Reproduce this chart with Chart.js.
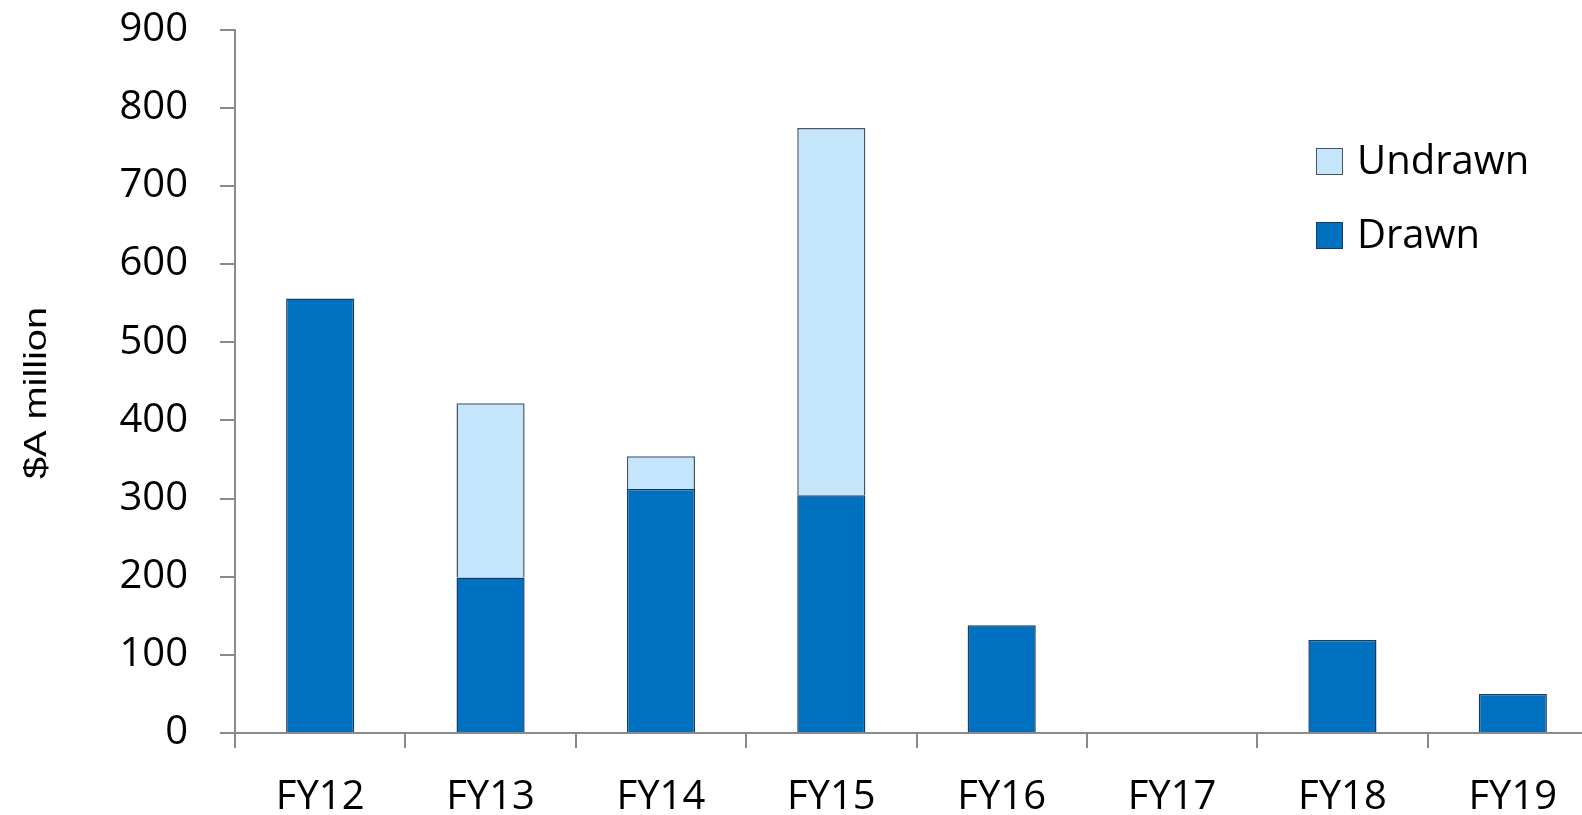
<!DOCTYPE html>
<html>
<head>
<meta charset="utf-8">
<script src="https://cdn.jsdelivr.net/npm/chart.js@4.4.0/dist/chart.umd.min.js"></script>
<style>
html, body { margin: 0; padding: 0; background: #fff; overflow: hidden; }
#wrap { width: 1610px; height: 815px; }
</style>
</head>
<body>
<div id="wrap"><canvas id="maturityChart" width="1610" height="815"></canvas></div>
<script>
const years = ['FY12', 'FY13', 'FY14', 'FY15', 'FY16', 'FY17', 'FY18', 'FY19']
const drawn = [556, 199, 312, 304, 138, null, 119, 50]
const undrawn = [null, 223, 42, 470, null, null, null, null]
const yMin = 0
const yMax = 900
const yStep = 100
const yTitle = '$A million'

const axisGrey = '#8a8a8a'

// legend + rotated axis title drawn by hand so they sit where the original has them
const extrasPlugin = {
    id: 'extras',
    afterDraw(chart) {
        const ctx = chart.ctx
        ctx.save()
        // legend, Undrawn on top
        const items = [chart.data.datasets[1], chart.data.datasets[0]]
        ctx.font = '40px "Open Sans"'
        ctx.textBaseline = 'middle'
        ctx.textAlign = 'left'
        items.forEach(function (ds, i) {
            const cy = 161 + i * 74
            ctx.fillStyle = ds.backgroundColor
            ctx.fillRect(1316, cy - 13, 27, 27)
            ctx.strokeStyle = ds.borderColor
            ctx.lineWidth = 1
            ctx.strokeRect(1316.5, cy - 12.5, 26, 26)
            ctx.fillStyle = '#000'
            ctx.fillText(ds.label, 1357, cy + 2)
        })
        // y title
        ctx.translate(37, 393)
        ctx.rotate(-Math.PI / 2)
        ctx.scale(1.28, 1)
        ctx.font = '31px "Liberation Sans"'
        ctx.textAlign = 'center'
        ctx.fillText(yTitle, 0, 0)
        ctx.restore()
    }
}

let ctx = document.getElementById('maturityChart')
let chart = new Chart(ctx, {
    type: 'bar',
    data: {
        labels: years,
        datasets: [
            {
                label: 'Drawn',
                data: drawn,
                backgroundColor: '#0070c0',
                borderColor: '#1d3a5c',
                borderWidth: 1.5,
                borderSkipped: 'bottom',
                barPercentage: 1,
                categoryPercentage: 0.4,
            },
            {
                label: 'Undrawn',
                data: undrawn,
                backgroundColor: '#c5e5fb',
                borderColor: '#46566a',
                borderWidth: 1.5,
                borderSkipped: 'bottom',
                barPercentage: 1,
                categoryPercentage: 0.4,
            }],
    },
    options: {
        responsive: false,
        animation: false,
        devicePixelRatio: 1,
        layout: { padding: { top: 29.5, right: 12, left: 0, bottom: 0 } },
        plugins: {
            legend: { display: false },
            tooltip: { enabled: false },
        },
        scales: {
            x: {
                stacked: true,
                border: { display: true, color: axisGrey, width: 2 },
                grid: {
                    display: true,
                    offset: true,
                    drawOnChartArea: false,
                    drawTicks: true,
                    tickLength: 15,
                    color: axisGrey,
                    lineWidth: 2,
                },
                ticks: {
                    color: '#000',
                    font: { family: '"Open Sans"', size: 40 },
                    padding: 26,
                    maxRotation: 0,
                },
                afterFit: function (scale) { scale.height = 82 },
            },
            y: {
                stacked: true,
                min: yMin,
                max: yMax,
                border: { display: true, color: axisGrey, width: 2 },
                grid: {
                    display: true,
                    drawOnChartArea: false,
                    drawTicks: true,
                    tickLength: 15,
                    color: axisGrey,
                    lineWidth: 2,
                },
                ticks: {
                    stepSize: yStep,
                    color: '#000',
                    font: { family: '"Open Sans"', size: 40 },
                    padding: 32,
                },
                afterFit: function (scale) {
                    scale.width = 235
                    scale.paddingTop = 0
                    scale.paddingBottom = 0
                },
            },
        },
    },
    plugins: [extrasPlugin],
})
</script>
</body>
</html>
